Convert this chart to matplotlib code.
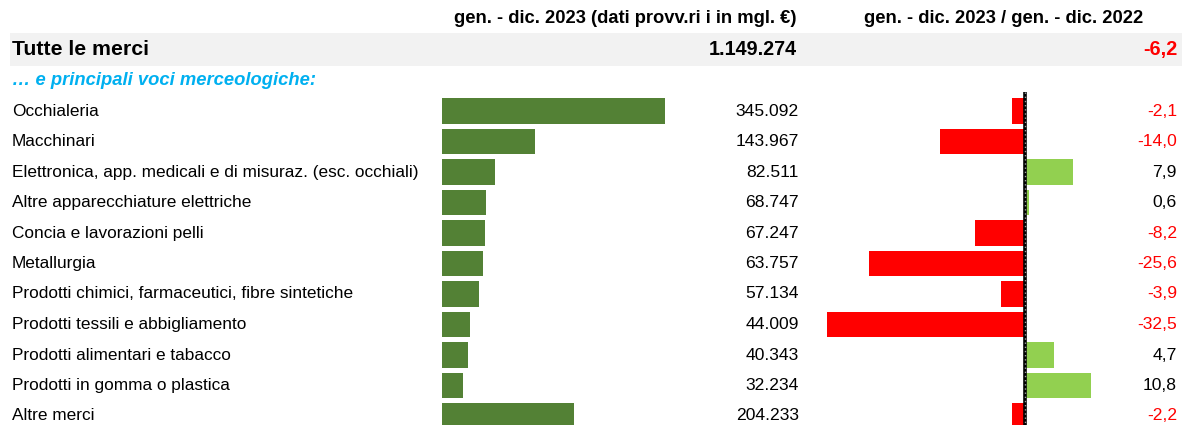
import matplotlib
matplotlib.use("Agg")
import matplotlib.pyplot as plt
from matplotlib.patches import Rectangle

plt.rcParams['font.family'] = ['Liberation Sans', 'DejaVu Sans']

categories = [
    "Occhialeria",
    "Macchinari",
    "Elettronica, app. medicali e di misuraz. (esc. occhiali)",
    "Altre apparecchiature elettriche",
    "Concia e lavorazioni pelli",
    "Metallurgia",
    "Prodotti chimici, farmaceutici, fibre sintetiche",
    "Prodotti tessili e abbigliamento",
    "Prodotti alimentari e tabacco",
    "Prodotti in gomma o plastica",
    "Altre merci",
]
values = [345092, 143967, 82511, 68747, 67247, 63757, 57134, 44009, 40343, 32234, 204233]
changes = [-2.1, -14.0, 7.9, 0.6, -8.2, -25.6, -3.9, -32.5, 4.7, 10.8, -2.2]

total_label = "Tutte le merci"
total_value = 1149274
total_change = -6.2
header_left = "gen. - dic. 2023 (dati provv.ri i in mgl. €)"
header_right = "gen. - dic. 2023 / gen. - dic. 2022"
subtitle = "… e principali voci merceologiche:"

W, H = 1187, 425
fig = plt.figure(figsize=(W / 100, H / 100), dpi=100)

def fmt_int(v):
    return f"{v:,}".replace(",", ".")

def fmt_dec(v):
    return f"{v:.1f}".replace(".", ",")

# background / text axes in pixel coordinates
bg = fig.add_axes([0, 0, 1, 1])
bg.set_xlim(0, W)
bg.set_ylim(H, 0)
bg.axis("off")

bg.add_patch(Rectangle((10, 33), 1172, 33, facecolor="#F2F2F2", edgecolor="none", zorder=0))
bg.text(797, 18, header_left, ha="right", va="center", fontsize=13.2, fontweight="bold")
bg.text(1143, 18, header_right, ha="right", va="center", fontsize=13.2, fontweight="bold")
bg.text(12, 49.5, total_label, ha="left", va="center", fontsize=15.3, fontweight="bold")
bg.text(797, 49.5, fmt_int(total_value), ha="right", va="center", fontsize=14.2, fontweight="bold")
bg.text(1178, 49.5, fmt_dec(total_change), ha="right", va="center", fontsize=14.3, fontweight="bold",
        color="#FF0000" if total_change < 0 else "black")
bg.text(12, 80, subtitle, ha="left", va="center", fontsize=13.2, fontweight="bold",
        fontstyle="italic", color="#00B0F0")

row0, step = 111, 30.5
ytop = -row0 / step
ybot = (H - row0) / step
n = len(categories)
ys = list(range(n))

for i, (c, v, ch) in enumerate(zip(categories, values, changes)):
    y = row0 + i * step
    bg.text(12, y, c, ha="left", va="center", fontsize=12.4)
    bg.text(799, y, fmt_int(v), ha="right", va="center", fontsize=12.6)
    bg.text(1177, y, fmt_dec(ch), ha="right", va="center", fontsize=12.6,
            color="#FF0000" if ch < 0 else "black")

# left bars axes
x0, x1 = 442, 800
scale = 223 / 345092
axl = fig.add_axes([x0 / W, 0, (x1 - x0) / W, 1])
axl.barh(ys, values, height=0.82, color="#538135", left=0)
axl.set_xlim(0, (x1 - x0) / scale)
axl.set_ylim(ybot, ytop)
axl.axis("off")

# right bars axes
zx = 1025
rscale = 198 / 32.5
rx0, rx1 = 820, 1160
axr = fig.add_axes([rx0 / W, 0, (rx1 - rx0) / W, 1])
colors = ["#FF0000" if c < 0 else "#92D050" for c in changes]
axr.barh(ys, changes, height=0.82, color=colors)
axr.set_xlim((rx0 - zx) / rscale, (rx1 - zx) / rscale)
axr.set_ylim(ybot, ytop)
axr.plot([0, 0], [-0.63, ybot], color="black", lw=2.6, zorder=3, solid_capstyle="butt")
axr.plot([0, 0], [-0.63, ybot], color="#A0A0A0", lw=1.0, zorder=4, linestyle=(0, (1, 2)))
axr.axis("off")

fig.savefig("out.png", dpi=100)
